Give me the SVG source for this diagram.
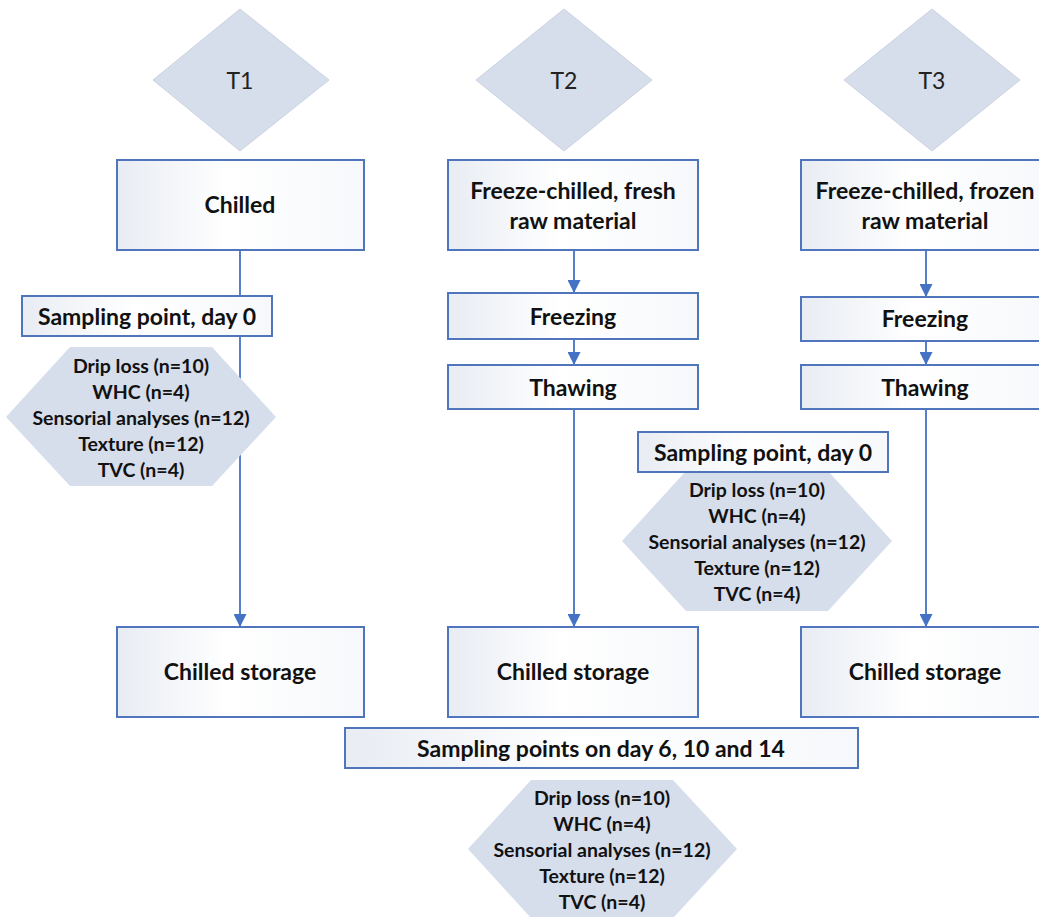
<svg xmlns="http://www.w3.org/2000/svg" width="1039" height="917" viewBox="0 0 1039 917">
<defs>
<linearGradient id="boxfill" x1="0" y1="0" x2="1" y2="0">
<stop offset="0" stop-color="#E8ECF3"/>
<stop offset="0.45" stop-color="#FFFFFF"/>
<stop offset="1" stop-color="#F6F8FB"/>
</linearGradient>
<marker id="arr" viewBox="0 0 12 12" refX="12" refY="6" markerWidth="13" markerHeight="13" markerUnits="userSpaceOnUse" orient="auto">
<path d="M0,0 L12,6 L0,12 Z" fill="#4472C4"/>
</marker>
<style>
.box{fill:url(#boxfill);stroke:#4F76BD;stroke-width:2}
.dia{fill:#D6DDEB;stroke:#CBD2E0;stroke-width:1}
.hex{fill:#D6DDEB}
.t{font-family:Lato,"Liberation Sans",sans-serif;font-size:23px;font-weight:700;fill:#111;text-anchor:middle;dominant-baseline:central}
.s{font-family:Lato,"Liberation Sans",sans-serif;font-size:19.5px;font-weight:700;fill:#111;text-anchor:middle;dominant-baseline:central}
.d{font-family:Lato,"Liberation Sans",sans-serif;font-size:23px;font-weight:400;fill:#222;text-anchor:middle;dominant-baseline:central}
.c{stroke:#4472C4;stroke-width:1.8;fill:none}
</style>
</defs>
<g id="connectors">
<line class="c" x1="240" y1="250" x2="240" y2="627" marker-end="url(#arr)"/>
<line class="c" x1="574" y1="250" x2="574" y2="293" marker-end="url(#arr)"/>
<line class="c" x1="574" y1="339" x2="574" y2="365" marker-end="url(#arr)"/>
<line class="c" x1="574" y1="409" x2="574" y2="627" marker-end="url(#arr)"/>
<line class="c" x1="926" y1="250" x2="926" y2="297" marker-end="url(#arr)"/>
<line class="c" x1="926" y1="341" x2="926" y2="365" marker-end="url(#arr)"/>
<line class="c" x1="926" y1="409" x2="926" y2="627" marker-end="url(#arr)"/>
</g>
<g id="t1">
<polygon class="dia" points="240,9 329,80 240,151 153,80"/>
<text class="d" x="240" y="80">T1</text>
</g>
<g id="t2">
<polygon class="dia" points="564,9 652,80 564,151 476,80"/>
<text class="d" x="564" y="80">T2</text>
</g>
<g id="t3">
<polygon class="dia" points="932,9 1020,80 932,151 844,80"/>
<text class="d" x="932" y="80">T3</text>
</g>
<g id="chilled">
<rect class="box" x="117" y="160" width="247" height="90"/>
<text class="t" x="240" y="204">Chilled</text>
</g>
<g id="fc-fresh">
<rect class="box" x="448" y="160" width="250" height="90"/>
<text class="t" x="573" y="190">Freeze-chilled, fresh</text>
<text class="t" x="573" y="220">raw material</text>
</g>
<g id="fc-frozen">
<rect class="box" x="801" y="160" width="250" height="90"/>
<text class="t" x="925" y="190">Freeze-chilled, frozen</text>
<text class="t" x="925" y="220">raw material</text>
</g>
<g id="sp1">
<rect class="box" x="22" y="296" width="250" height="40"/>
<text class="t" x="147" y="316">Sampling point, day 0</text>
</g>
<g id="analyses1">
<polygon class="hex" points="6,417 70,347 212,347 276,417 212,486 70,486"/>
<text class="s" x="141" y="365">Drip loss (n=10)</text>
<text class="s" x="141" y="391">WHC (n=4)</text>
<text class="s" x="141" y="417">Sensorial analyses (n=12)</text>
<text class="s" x="141" y="443">Texture (n=12)</text>
<text class="s" x="141" y="469">TVC (n=4)</text>
</g>
<g id="freezing2">
<rect class="box" x="448" y="293" width="250" height="46"/>
<text class="t" x="573" y="316">Freezing</text>
</g>
<g id="thawing2">
<rect class="box" x="448" y="365" width="250" height="44"/>
<text class="t" x="573" y="387">Thawing</text>
</g>
<g id="freezing3">
<rect class="box" x="801" y="297" width="250" height="44"/>
<text class="t" x="925" y="318">Freezing</text>
</g>
<g id="thawing3">
<rect class="box" x="801" y="365" width="250" height="44"/>
<text class="t" x="925" y="387">Thawing</text>
</g>
<g id="analyses2">
<polygon class="hex" points="622,541 686,471 828,471 892,541 828,611 686,611"/>
<text class="s" x="757" y="489">Drip loss (n=10)</text>
<text class="s" x="757" y="515">WHC (n=4)</text>
<text class="s" x="757" y="541">Sensorial analyses (n=12)</text>
<text class="s" x="757" y="567">Texture (n=12)</text>
<text class="s" x="757" y="593">TVC (n=4)</text>
</g>
<g id="sp2">
<rect class="box" x="638" y="432" width="250" height="40"/>
<text class="t" x="763" y="452">Sampling point, day 0</text>
</g>
<g id="storage1">
<rect class="box" x="117" y="627" width="247" height="90"/>
<text class="t" x="240" y="671">Chilled storage</text>
</g>
<g id="storage2">
<rect class="box" x="448" y="627" width="250" height="90"/>
<text class="t" x="573" y="671">Chilled storage</text>
</g>
<g id="storage3">
<rect class="box" x="801" y="627" width="250" height="90"/>
<text class="t" x="925" y="671">Chilled storage</text>
</g>
<g id="sp3">
<rect class="box" x="345" y="728" width="513" height="40"/>
<text class="t" x="601" y="748">Sampling points on day 6, 10 and 14</text>
</g>
<g id="analyses3">
<polygon class="hex" points="468,849 531,780 673,780 737,849 673,918 531,918"/>
<text class="s" x="602" y="797">Drip loss (n=10)</text>
<text class="s" x="602" y="823">WHC (n=4)</text>
<text class="s" x="602" y="849">Sensorial analyses (n=12)</text>
<text class="s" x="602" y="875">Texture (n=12)</text>
<text class="s" x="602" y="901">TVC (n=4)</text>
</g>
</svg>
